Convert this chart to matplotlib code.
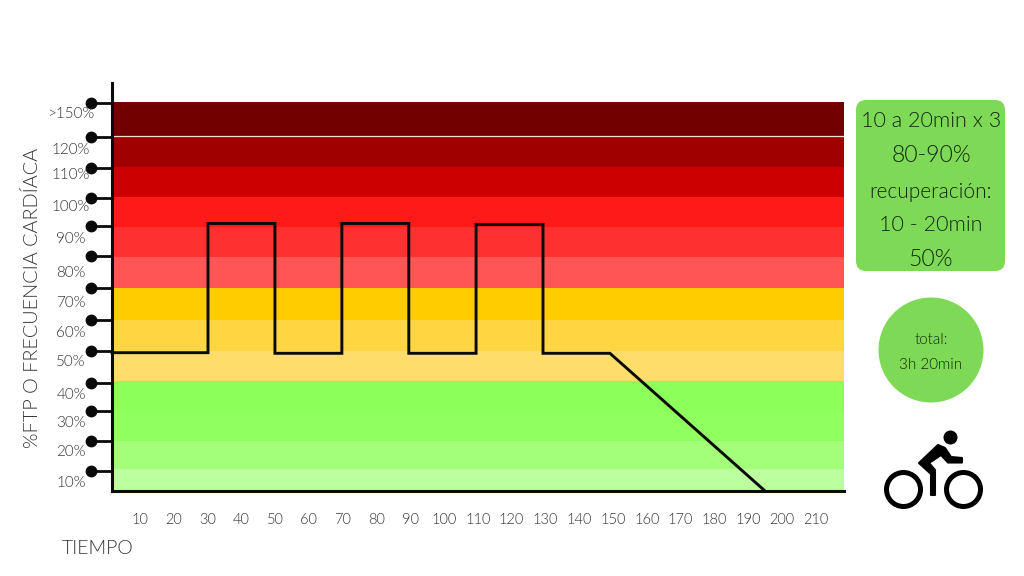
import matplotlib
matplotlib.use("Agg")
import matplotlib.pyplot as plt
from matplotlib.patches import Circle, FancyBboxPatch, Polygon
from matplotlib import font_manager as fm

avail = {f.name for f in fm.fontManager.ttflist}
FONT = next((f for f in ["Lato", "Open Sans", "Roboto", "DejaVu Sans"] if f in avail), "DejaVu Sans")
plt.rcParams["font.family"] = [FONT, "DejaVu Sans"]
plt.rcParams["font.weight"] = 300

# Band edges on a scale of 10 units per zone as drawn
band_edges = [0, 7.2, 16.4, 26.3, 36.2, 46, 56.2, 66.8, 77, 86.8, 96.7, 106.6, 116.8, 128]
band_colors = ["#bcff9f", "#a3ff7a", "#90ff60", "#8cff5a", "#ffdd6b", "#ffd642", "#ffcc00",
               "#ff5555", "#ff3030", "#ff1a1a", "#cc0000", "#a00000", "#720000"]
# Workout profile: minutes and intensity level
profile_time = [1.8, 30.2, 30.2, 50, 50, 69.8, 69.8, 89.6, 89.6, 109.5, 109.5, 129.3, 129.3, 149.1, 195]
profile_level = [45.5, 45.5, 88, 88, 45.3, 45.3, 88, 88, 45.3, 45.3, 87.7, 87.7, 45.3, 45.3, 0]
x_ticks = list(range(10, 220, 10))
y_tick_pos = [6.6, 16.5, 26.3, 35.6, 45.9, 56.1, 66.9, 77.4, 87.2, 96.4, 106.3, 116.5, 127.5]
y_labels = ["10%", "20%", "30%", "40%", "50%", "60%", "70%", "80%", "90%", "100%", "110%", "120%", ">150%"]
y_label_pos = [2.6, 12.8, 22.3, 31.6, 42.4, 52, 62, 71.8, 83, 93.3, 104, 112.2, 124]

W, H = 1024, 576
fig = plt.figure(figsize=(W / 100, H / 100), dpi=100, facecolor="white")
L, R, T, B = 112, 844, 83, 491
ax = fig.add_axes([L / W, 1 - B / H, (R - L) / W, (B - T) / H])
ax.set_xlim(1.8, (R - 106) / 3.38)
ax.set_ylim(0, (B - T) / 3.04)
ax.patch.set_alpha(0)

for lo, hi, c in zip(band_edges[:-1], band_edges[1:], band_colors):
    ax.axhspan(lo, hi, color=c, lw=0, zorder=1)
ax.axhline(band_edges[-2], color="#f3dede", lw=0.9, zorder=1.5)
ax.plot(profile_time, profile_level, color="#0a0a0a", lw=2.1, zorder=3,
        solid_joinstyle="miter", clip_on=False)

for s in ["top", "right"]:
    ax.spines[s].set_visible(False)
for s in ["left", "bottom"]:
    ax.spines[s].set_linewidth(2.2)
    ax.spines[s].set_color("#0a0a0a")
    ax.spines[s].set_zorder(4)

ax.set_xticks(x_ticks)
ax.set_xticklabels([str(v) for v in x_ticks], fontsize=10.5, color="#333333")
ax.tick_params(axis="x", length=0, pad=16)
ax.set_yticks(y_tick_pos)
ax.set_yticklabels([])
ax.tick_params(axis="y", length=15, width=2, color="#0a0a0a")
ax.plot([-21 / (R - L)] * len(y_tick_pos), y_tick_pos, "o", ms=7.5, color="#0a0a0a",
        transform=ax.get_yaxis_transform(), clip_on=False, zorder=5)
for lab, y in zip(y_labels, y_label_pos):
    ax.text(-41 / (R - L), y, lab, transform=ax.get_yaxis_transform(), ha="center", va="center",
            fontsize=11, color="#333333", clip_on=False, zorder=6)

# Overlay in pixel coordinates for the side panel and outer titles
ov = fig.add_axes([0, 0, 1, 1])
ov.set_xlim(0, W)
ov.set_ylim(H, 0)
ov.axis("off")
ov.patch.set_alpha(0)
ov.text(32, 298, "%FTP O FRECUENCIA CARDÍACA", rotation=90, ha="center", va="center",
        fontsize=14.3, color="#333333")
ov.text(98, 549, "TIEMPO", ha="center", va="center", fontsize=14, color="#333333")

GREEN = "#7ed957"
box = FancyBboxPatch((864, 108), 133, 155, boxstyle="round,pad=8,rounding_size=10",
                     fc=GREEN, ec=GREEN, lw=0)
ov.add_patch(box)
panel = ["10 a 20min x 3", "80-90%", "recuperación:", "10 - 20min", "50%"]
panel_y = [121, 155, 192, 225, 259]
panel_fs = [15.5, 16.5, 15, 15.5, 16.5]
for t, y, fs in zip(panel, panel_y, panel_fs):
    ov.text(931, y, t, ha="center", va="center", fontsize=fs, color="#12260a")
ov.add_patch(Circle((931, 350), 52.5, fc=GREEN, ec="none"))
ov.text(931, 340, "total:", ha="center", va="center", fontsize=11, color="#12260a")
ov.text(931, 365, "3h 20min", ha="center", va="center", fontsize=11, color="#12260a")

# Cyclist icon
K = "#000000"
for cx in (903.5, 963.5):
    ov.add_patch(Circle((cx, 489.5), 17, fc="none", ec=K, lw=3.6))
ov.add_patch(Circle((950.5, 437.5), 7, fc=K, ec="none"))
ov.add_patch(Polygon([(938, 445), (919, 463), (931, 474), (931, 495), (935, 495),
                      (935, 470), (929, 463), (941, 455), (948, 462.5), (962, 462.5), (962, 458),
                      (951, 457), (945, 448)], closed=True, fc=K, ec=K, lw=1.5, joinstyle="round"))

fig.savefig("out.png", dpi=100)
